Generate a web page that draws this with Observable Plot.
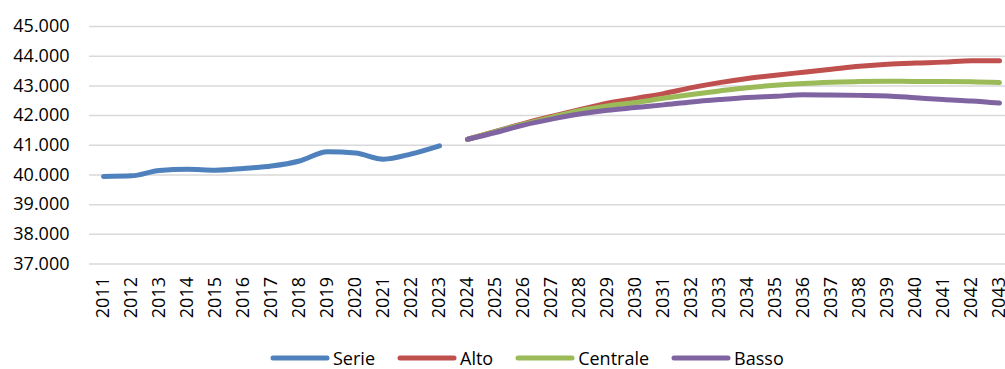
<!DOCTYPE html>
<html>
<head>
<meta charset="utf-8">
<script src="https://cdn.jsdelivr.net/npm/d3@7"></script>
<script src="https://cdn.jsdelivr.net/npm/@observablehq/plot@0.6"></script>
<style>
  html, body { margin: 0; padding: 0; background: #fff; overflow: hidden; }
  body { width: 1005px; height: 369px; font-family: "Open Sans", sans-serif; }
  #chart svg { display: block; }
  #legend { display: flex; align-items: center; height: 18px; padding-top: 0; padding-left: 270px; font-size: 18px; color: #000; }
  #legend .item { display: flex; align-items: center; margin-right: 22px; }
  #legend .item span { display: inline-block; line-height: 18px; }
  #legend svg { margin-right: 3px; }
</style>
</head>
<body>
<div id="chart"></div>
<div id="legend"></div>
<script>
const years = d3.range(2011, 2044).map(String);
const serieYears = d3.range(2011, 2024).map(String);
const projYears = d3.range(2024, 2044).map(String);

const serie = [39950, 39970, 40150, 40190, 40160, 40220, 40300, 40470, 40780, 40740, 40530, 40710, 40980];
const alto = [41200, 41470, 41730, 41970, 42200, 42420, 42580, 42740, 42940, 43110, 43250, 43360, 43460, 43560, 43660, 43730, 43770, 43800, 43850, 43850];
const centrale = [41200, 41460, 41710, 41940, 42160, 42320, 42440, 42580, 42710, 42830, 42940, 43020, 43080, 43120, 43150, 43160, 43150, 43150, 43140, 43110];
const basso = [41200, 41430, 41680, 41880, 42050, 42180, 42270, 42360, 42460, 42540, 42610, 42650, 42700, 42690, 42680, 42660, 42600, 42540, 42490, 42420];
const yTicks = d3.range(37000, 45001, 1000);

const seriesNames = ["Serie", "Alto", "Centrale", "Basso"];
const seriesColors = ["#4f81bd", "#c0504d", "#9bbb59", "#8064a2"];

const data = [
  ...serie.map((v, i) => ({year: serieYears[i], value: v, name: "Serie"})),
  ...alto.map((v, i) => ({year: projYears[i], value: v, name: "Alto"})),
  ...centrale.map((v, i) => ({year: projYears[i], value: v, name: "Centrale"})),
  ...basso.map((v, i) => ({year: projYears[i], value: v, name: "Basso"}))
];

const it = d3.formatLocale({decimal: ",", thousands: ".", grouping: [3], currency: ["€", ""]});
const fmt = it.format(",.0f");

const chart = Plot.plot({
  width: 1005,
  height: 349,
  marginLeft: 89,
  marginRight: -8,
  marginTop: 26,
  marginBottom: 85.5,
  style: {fontFamily: "Open Sans, sans-serif", fontSize: "18px", color: "#000", background: "#fff"},
  x: {type: "point", domain: years, padding: 0.5, label: null},
  y: {domain: [37000, 45000], label: null},
  color: {domain: seriesNames, range: seriesColors},
  marks: [
    Plot.gridY(yTicks, {stroke: "#d9d9d9", strokeOpacity: 1, strokeWidth: 1.5}),
    Plot.axisY(yTicks, {tickSize: 0, tickPadding: 20, tickFormat: fmt, fontSize: 18, label: null}),
    Plot.axisX(years, {tickSize: 0, tickPadding: 13, tickRotate: -90, fontSize: 18, label: null}),
    ...seriesNames.map(n => Plot.line(data.filter(d => d.name === n), {
      x: "year", y: "value", stroke: "name", strokeWidth: 5,
      strokeLinecap: "round", strokeLinejoin: "round", curve: "monotone-x"
    }))
  ]
});
document.getElementById("chart").appendChild(chart);

const legend = document.getElementById("legend");
seriesNames.forEach((n, i) => {
  const item = document.createElement("div");
  item.className = "item";
  item.innerHTML = `<svg width="60" height="10"><line x1="3" y1="5" x2="57" y2="5" stroke="${seriesColors[i]}" stroke-width="5" stroke-linecap="round"/></svg><span>${n}</span>`;
  legend.appendChild(item);
});
</script>
</body>
</html>
